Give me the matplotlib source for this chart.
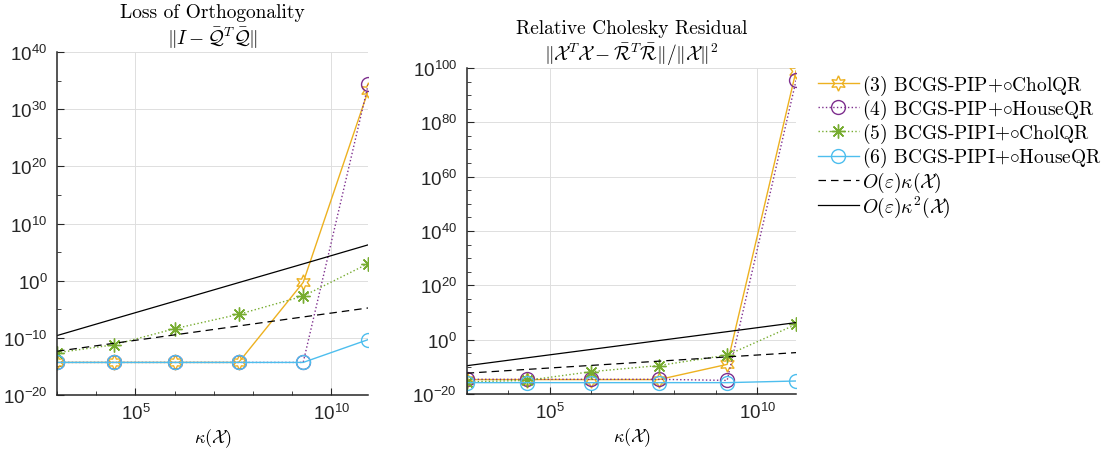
import numpy as np
import matplotlib
matplotlib.use('Agg')
import matplotlib.pyplot as plt
from matplotlib.ticker import LogLocator, NullFormatter

plt.rcParams['font.family'] = ['Liberation Sans', 'DejaVu Sans']
plt.rcParams['mathtext.fontset'] = 'cm'
plt.rcParams['axes.unicode_minus'] = False

# condition numbers kappa(X) of the test matrices
kappa = [1e3, 2.8e4, 1e6, 4.3e7, 1.9e9, 8.7e10]

# loss of orthogonality
loo_pip_chol = [5e-15, 5e-15, 5e-15, 5e-15, 0.5, 2e33]
loo_pip_house = [5e-15, 5e-15, 5e-15, 5e-15, 5e-15, 2.5e34]
loo_pipi_chol = [2.5e-13, 6e-12, 4e-9, 1.3e-6, 2e-3, 1e3]
loo_pipi_house = [5e-15, 5e-15, 5e-15, 5e-15, 5e-15, 5e-11]

# relative Cholesky residual
res_pip_chol = [2e-15, 2e-15, 2e-15, 2e-15, 8e-10, 8e98]
res_pip_house = [2.5e-15, 2.5e-15, 2.5e-15, 2.5e-15, 1e-15, 2.5e95]
res_pipi_chol = [3e-16, 1e-15, 1.6e-12, 3e-10, 2e-6, 4e5]
res_pipi_house = [1.5e-16, 1.5e-16, 1.5e-16, 1.5e-16, 1.5e-16, 6e-16]

# reference bounds
eps_kappa = [4.5e-13, 1.1e-11, 3.3e-10, 1.2e-8, 4.5e-7, 1.7e-5]
eps_kappa2 = [2.5e-10, 2e-7, 2.5e-4, 0.46, 870, 1.9e6]

labels = ['(3) BCGS-PIP+$\\circ$CholQR', '(4) BCGS-PIP+$\\circ$HouseQR',
          '(5) BCGS-PIPI+$\\circ$CholQR', '(6) BCGS-PIPI+$\\circ$HouseQR',
          '$O(\\varepsilon)\\kappa(\\mathcal{X})$', '$O(\\varepsilon)\\kappa^2(\\mathcal{X})$']

orange = '#EDB120'
purple = '#7E2F8E'
green = '#77AC30'
blue = '#4DBEEE'
hexagram = (6, 1, 0)
asterisk = (8, 2, 0)

fig = plt.figure(figsize=(11.05, 4.56), dpi=100)
ax1 = fig.add_axes([0.0516, 0.1316, 0.2817, 0.752])
ax2 = fig.add_axes([0.4223, 0.1338, 0.2981, 0.715])


def draw(ax, s3, s4, s5, s6):
    ax.plot(kappa, s3, '-', color=orange, marker=hexagram, ms=11, mfc='none', mew=1.0, lw=1.0)
    ax.plot(kappa, s4, ':', color=purple, marker='o', ms=10, mfc='none', mew=1.0, lw=1.0)
    ax.plot(kappa, s5, ':', color=green, marker=asterisk, ms=10, mfc='none', mew=1.0, lw=1.0)
    ax.plot(kappa, s6, '-', color=blue, marker='o', ms=10, mfc='none', mew=1.0, lw=1.0)
    ax.plot(kappa, eps_kappa, '--', color='black', lw=0.9, dashes=(6, 4))
    ax.plot(kappa, eps_kappa2, '-', color='black', lw=0.9)
    ax.set_xscale('log')
    ax.set_yscale('log')
    ax.set_xlim(kappa[0], kappa[-1])
    ax.set_xticks([1e5, 1e10])
    ax.xaxis.set_minor_locator(LogLocator(base=10, subs=[1.0], numticks=20))
    ax.xaxis.set_minor_formatter(NullFormatter())
    ax.grid(True, which='major', color='#dedede', lw=0.7)
    ax.set_axisbelow(True)
    for side in ['top', 'right']:
        ax.spines[side].set_visible(False)
    for side in ['left', 'bottom']:
        ax.spines[side].set_color('#262626')
        ax.spines[side].set_linewidth(1.1)
    ax.tick_params(which='both', direction='in', colors='#262626', labelsize=13.5)
    ax.tick_params(which='major', length=5)
    ax.tick_params(which='minor', length=3)
    ax.tick_params(axis='y', pad=7)
    ax.tick_params(axis='x', pad=6)
    ax.set_xlabel('$\\kappa(\\mathcal{X})$', fontsize=13, labelpad=2)


draw(ax1, loo_pip_chol, loo_pip_house, loo_pipi_chol, loo_pipi_house)
ax1.set_ylim(1e-20, 1e40)
ax1.set_yticks([10.0**k for k in range(-20, 41, 10)])
ax1.set_yticks([10.0**k for k in range(-15, 40, 10)], minor=True)
ax1.yaxis.set_minor_formatter(NullFormatter())
ax1.set_title('Loss of Orthogonality\n$\\|I - \\bar{\\mathcal{Q}}^T\\bar{\\mathcal{Q}}\\|$',
              fontfamily='cmr10', fontsize=14, pad=6, linespacing=1.2)

draw(ax2, res_pip_chol, res_pip_house, res_pipi_chol, res_pipi_house)
ax2.set_ylim(1e-20, 1e100)
ax2.set_yticks([10.0**k for k in range(-20, 101, 20)])
ax2.set_yticks([10.0**k for k in range(-20, 101, 5)], minor=True)
ax2.yaxis.set_minor_formatter(NullFormatter())
ax2.set_title('Relative Cholesky Residual\n$\\|\\mathcal{X}^T\\mathcal{X} - \\bar{\\mathcal{R}}^T\\bar{\\mathcal{R}}\\|/\\|\\mathcal{X}\\|^2$',
              fontfamily='cmr10', fontsize=14, pad=6, linespacing=1.2)

fig.legend(ax2.get_lines(), labels, loc='upper left', bbox_to_anchor=(0.733, 0.855),
           frameon=False, numpoints=1, handlelength=2.1, handletextpad=0.2,
           labelspacing=0.0, borderaxespad=0, prop={'family': 'cmr10', 'size': 14})

fig.savefig('out.png', dpi=100)
